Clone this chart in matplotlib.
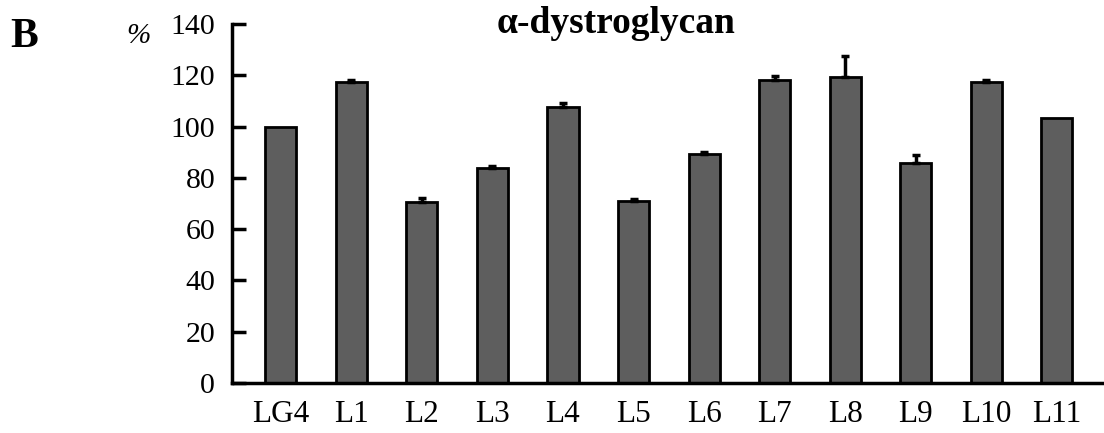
import matplotlib
matplotlib.use("Agg")
import matplotlib.pyplot as plt

categories = ["LG4", "L1", "L2", "L3", "L4", "L5", "L6", "L7", "L8", "L9", "L10", "L11"]
values = [100, 117.4, 70.6, 83.9, 107.6, 71.0, 89.3, 118.2, 119.4, 85.8, 117.4, 103.4]
errors = [0, 0.8, 1.5, 0.6, 1.5, 0.7, 0.6, 1.5, 8.0, 3.0, 0.6, 0]
yticks = [0, 20, 40, 60, 80, 100, 120, 140]

plt.rcParams['font.family'] = ['Liberation Serif', 'DejaVu Serif']

fig = plt.figure(figsize=(11.04, 4.33), dpi=100)
ax = fig.add_axes([0.210, 0.1155, 0.79, 0.829])

x = list(range(len(categories)))
ax.bar(x, values, width=0.44, color='#5e5e5e', edgecolor='black', linewidth=2, zorder=2)
ex = [xi for xi, e in zip(x, errors) if e > 0]
ev = [v for v, e in zip(values, errors) if e > 0]
ee = [e for e in errors if e > 0]
ax.errorbar(ex, ev, yerr=[[0] * len(ee), ee], fmt='none', ecolor='black',
            elinewidth=2.5, capsize=3, capthick=2.5, zorder=3)

ax.set_ylim(0, 140)
ax.set_xlim(-0.695, 11.67)
ax.set_yticks(yticks)
ax.set_yticklabels([str(t) for t in yticks], fontsize=21.5)
ax.set_xticks(x)
ax.set_xticklabels(categories, fontsize=22.5)
ax.tick_params(axis='x', length=0, pad=12)
ax.tick_params(axis='y', direction='in', length=10, width=2.5, pad=12)
ax.spines['top'].set_visible(False)
ax.spines['right'].set_visible(False)
ax.spines['left'].set_linewidth(2.5)
ax.spines['bottom'].set_linewidth(2.5)

fig.text(0.558, 0.945, "α-dystroglycan", ha='center', va='center', fontsize=27, fontweight='bold')
fig.text(0.009, 0.915, "B", ha='left', va='center', fontsize=30, fontweight='bold')
fig.text(0.125, 0.918, "%", ha='center', va='center', fontsize=21, style='italic')

fig.savefig("out.png", dpi=100)
